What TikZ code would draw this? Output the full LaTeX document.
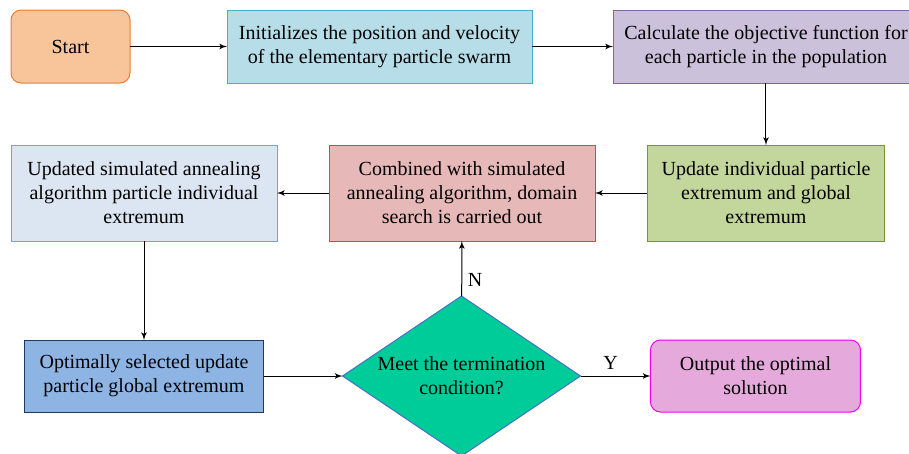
\documentclass[tikz,border=0pt]{standalone}
\usepackage{fontspec}
\setmainfont{Liberation Serif}
\usepackage{xcolor}
\usetikzlibrary{shapes.geometric, arrows, positioning}

\definecolor{startfill}{HTML}{F8C49A}
\definecolor{startdraw}{HTML}{ED7D31}
\definecolor{initfill}{HTML}{B7DEE8}
\definecolor{initdraw}{HTML}{4BACC6}
\definecolor{calcfill}{HTML}{CCC1DA}
\definecolor{calcdraw}{HTML}{8064A2}
\definecolor{updfill}{HTML}{C3D69B}
\definecolor{upddraw}{HTML}{77933C}
\definecolor{combfill}{HTML}{E6B9B8}
\definecolor{combdraw}{HTML}{C0504D}
\definecolor{safill}{HTML}{DCE6F2}
\definecolor{sadraw}{HTML}{7F9FCF}
\definecolor{optfill}{HTML}{8EB4E3}
\definecolor{optdraw}{HTML}{1F3864}
\definecolor{condfill}{HTML}{00CC99}
\definecolor{conddraw}{HTML}{4472C4}
\definecolor{outfill}{HTML}{E6A9DC}
\definecolor{outdraw}{HTML}{F000F0}

\begin{document}
\begin{tikzpicture}[x=0.6pt, y=-0.6pt, font=\fontsize{12}{14.4}\selectfont]
    % Styles
    \tikzset{
        block/.style = {rectangle, draw, line width=0.6pt, align=center, inner sep=2pt, outer sep=0pt, minimum height=43.8pt},
        tall/.style  = {block, minimum height=57.6pt},
        term/.style  = {block, rounded corners=6pt},
        decision/.style = {diamond, draw, line width=0.6pt, align=center, inner sep=0pt, outer sep=0pt, aspect=1.49, minimum width=142.8pt, minimum height=96pt},
        line/.style  = {draw, line width=0.6pt, -latex'}
    }
    \useasboundingbox (0,0) rectangle (909,453);

    % Ligne du haut
    \node [term, fill=startfill, draw=startdraw, minimum width=71.4pt] at (70.5,46.5) (start) {Start};
    \node [block, fill=initfill, draw=initdraw, minimum width=183pt, right=58.2pt of start] (init) {Initializes the position and velocity\\of the elementary particle swarm};
    \node [block, fill=calcfill, draw=calcdraw, minimum width=183.6pt, right=48.6pt of init] (calc) {Calculate the objective function for\\each particle in the population};

    % Ligne du milieu
    \node [tall, fill=updfill, draw=upddraw, minimum width=142.8pt, below=37.2pt of calc] (update) {Update individual particle\\extremum and global\\extremum};
    \node [tall, fill=combfill, draw=combdraw, minimum width=159.6pt, left=31.2pt of update] (combined) {Combined with simulated\\annealing algorithm, domain\\search is carried out};
    \node [tall, fill=safill, draw=sadraw, minimum width=159.6pt, left=31.2pt of combined] (updsa) {Updated simulated annealing\\algorithm particle individual\\extremum};

    % Ligne du bas
    \node [block, fill=optfill, draw=optdraw, minimum width=143.4pt, minimum height=43.2pt, below=59.4pt of updsa] (optimal) {Optimally selected update\\particle global extremum};
    \node [decision, fill=condfill, draw=conddraw, right=47.4pt of optimal] (cond) {Meet the termination\\condition?};
    \node [term, fill=outfill, draw=outdraw, minimum width=126pt, minimum height=43.2pt, right=42pt of cond] (output) {Output the optimal\\solution};

    % Connexions
    \path [line] (start) -- (init);
    \path [line] (init) -- (calc);
    \path [line] (calc) -- (update);
    \path [line] (update) -- (combined);
    \path [line] (combined) -- (updsa);
    \path [line] (updsa) -- (optimal);
    \path [line] (optimal) -- (cond);
    \path [line] (cond) -- node [right, pos=0.3] {N} (combined);
    \path [line] (cond) -- node [above, pos=0.43] {Y} (output);
\end{tikzpicture}
\end{document}
